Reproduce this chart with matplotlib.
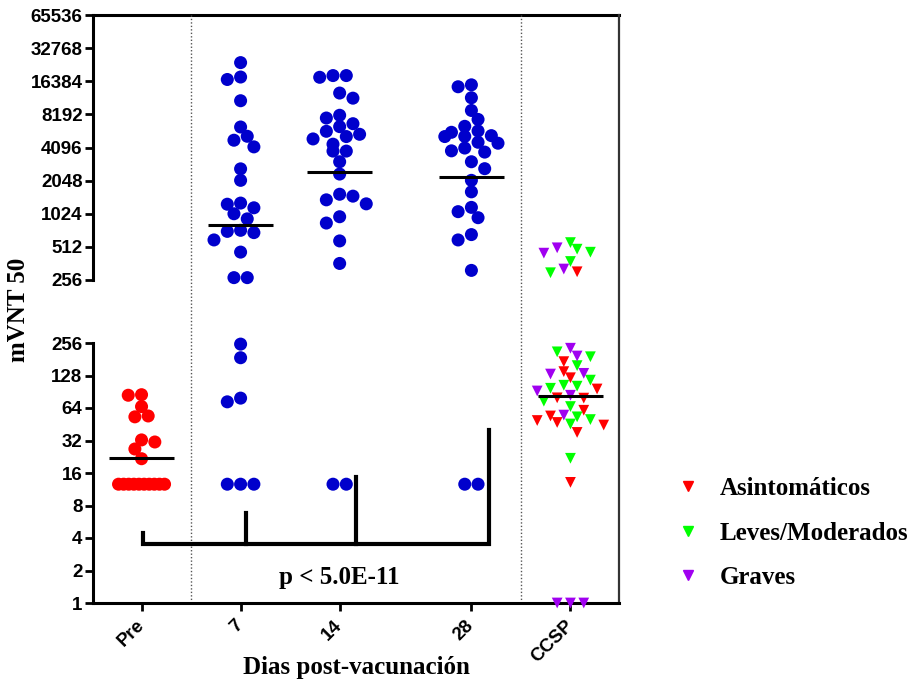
import numpy as np
import matplotlib.pyplot as plt
import matplotlib.transforms as mtransforms
from matplotlib.lines import Line2D
from matplotlib.ticker import FixedLocator, NullLocator

# ---- data ----
groups = ["Pre", "7", "14", "28", "CCSP"]

pre_vals = [84, 85, 66, 54, 53, 31, 32.4, 26.7, 21.7] + [12.6] * 10
d7_vals = [24200, 17900, 17000, 10900, 6290, 5180, 4770, 4150, 2620, 2060,
           1250, 1280, 1160, 1024, 920, 724, 690, 708, 592, 459, 269, 269,
           250, 187, 79, 73, 12.6, 12.6, 12.6]
d14_vals = [18450, 17800, 18450, 12800, 11500, 7590, 8040, 6340, 6740, 5400,
            5150, 5750, 4900, 4390, 3800, 3800, 3040, 2350, 1480, 1260, 1370,
            1540, 962, 843, 580, 362, 12.6, 12.6]
d28_vals = [14600, 15200, 11600, 8890, 7370, 6380, 5790, 5630, 5170, 5150,
            5250, 4570, 4480, 4050, 3720, 3820, 3040, 2630, 2060, 1620, 1070,
            943, 1170, 592, 662, 313, 12.6, 12.6]

ccsp_asint = [304, 172, 139, 122, 96, 79, 79.5, 61, 54, 47, 44.5, 49, 38, 13.1]
ccsp_leves = [560, 488, 458, 377, 298, 212, 191, 158, 116, 102, 104, 97.5,
              74, 66, 50, 53, 45.5, 21.9]
ccsp_graves = [449, 502, 322, 229, 194, 132, 134, 92, 84, 55, 1, 1, 1]

group_means = [21.9, 805, 2450, 2200, 83]

bracket_x = [0.01, 1.05, 2.17, 3.51]
bracket_tops = [4.45, 6.8, 14.7, 40]
bracket_base = 3.52
p_text = "p < 5.0E-11"

cat_labels = ["Asintomáticos", "Leves/Moderados", "Graves"]
cat_colors = ["#FF0000", "#00FF00", "#A000F0"]
dot_color = "#0000CC"

top_ticks = [2 ** k for k in range(8, 17)]
bot_ticks = [2 ** k for k in range(0, 9)]

# ---- layout ----
W, H = 914, 681
xpos = [0, 1, 2, 3.33, 4.33]
xlim = (-0.49, 4.82)

serif = "Liberation Serif"
sans = "Liberation Sans"

fig = plt.figure(figsize=(W / 100, H / 100), dpi=100)


def box(l, t, r, b):
    return [l / W, 1 - b / H, (r - l) / W, (b - t) / H]


ax_top = fig.add_axes(box(93, 15, 619, 280))
ax_bot = fig.add_axes(box(93, 343, 619, 603))

for ax, lo, hi, ticks in [(ax_top, 256, 65536, top_ticks), (ax_bot, 1, 256, bot_ticks)]:
    ax.set_yscale("log", base=2)
    ax.set_ylim(lo, hi)
    ax.set_xlim(*xlim)
    ax.yaxis.set_major_locator(FixedLocator(ticks))
    ax.yaxis.set_minor_locator(NullLocator())
    ax.set_yticklabels([str(t) for t in ticks], fontfamily=sans,
                       fontweight="bold", fontsize=13.5)
    ax.tick_params(axis="y", direction="out", length=6, width=2, pad=1.5)
    ax.spines["left"].set_linewidth(2.2)
    ax.spines["right"].set_visible(False)
    ax.patch.set_alpha(0)

ax_top.spines["bottom"].set_visible(False)
ax_top.spines["top"].set_linewidth(2.2)
ax_top.set_xticks([])
ax_bot.spines["top"].set_visible(False)
ax_bot.spines["bottom"].set_linewidth(2.2)
ax_bot.set_xticks(xpos)
ax_bot.set_xticklabels(groups, rotation=45, ha="right", va="top",
                       rotation_mode="anchor", fontfamily=sans,
                       fontweight="bold", fontsize=13.5)
ax_bot.tick_params(axis="x", direction="out", length=6, width=2, pad=4)
shift = mtransforms.ScaledTranslation(-6 / 100, 0, fig.dpi_scale_trans)
for lab in ax_bot.get_xticklabels():
    lab.set_transform(lab.get_transform() + shift)

# right border and dotted separators running through the axis break
span = (603 - 15) / (603 - 343)
ax_bot.add_line(Line2D([1, 1], [0, span], transform=ax_bot.transAxes,
                       color="#333333", lw=1.6, clip_on=False))
for xv in [(xpos[0] + xpos[1]) / 2, (xpos[3] + xpos[4]) / 2]:
    ax_bot.axvline(xv, ymin=0, ymax=span, color="#555555", lw=1.0,
                   ls=(0, (1, 1.5)), clip_on=False, zorder=1)


def swarm(ypix, vals, d, step, row_w, kmax):
    """simple beeswarm in pixel units, returns x offsets in pixels"""
    n = len(ypix)
    off = np.full(n, np.nan)
    order = np.argsort(-ypix, kind="stable")
    placed = []
    for i in order:
        if not np.isnan(off[i]):
            continue
        same = [j for j in range(n) if vals[j] == vals[i]]
        if len(same) > 1:
            sp = min(2 * step, row_w / (len(same) - 1))
            for k, j in enumerate(same):
                off[j] = (k - (len(same) - 1) / 2) * sp
                placed.append(j)
            continue
        bal = sum(np.sign(off[j]) for j in placed)
        ks = [0]
        for k in range(1, kmax + 1):
            ks += [-k, k] if bal >= 0 else [k, -k]
        best, best_d = 0, -1
        for k in ks:
            dmin = min([np.hypot(k * step - off[j], ypix[i] - ypix[j])
                        for j in placed] + [1e9])
            if dmin >= d:
                best = k
                break
            if dmin > best_d:
                best, best_d = k, dmin
        off[i] = best * step
        placed.append(i)
    return off


px_per_unit = ax_bot.bbox.width / (xlim[1] - xlim[0])


def draw_group(xc, vals, colors, marker, size, d, kmax):
    vals = np.asarray(vals, float)
    colors = np.asarray(colors)
    for ax, mask in [(ax_top, vals >= 256), (ax_bot, vals < 256)]:
        v = vals[mask]
        if len(v) == 0:
            continue
        ypix = ax.transData.transform(np.column_stack([np.full(len(v), xc), v]))[:, 1]
        off = swarm(ypix, list(v), d, 6.65, 46, kmax)
        ax.scatter(xc + off / px_per_unit, v, s=size, marker=marker,
                   c=list(colors[mask]), edgecolors="none", clip_on=False, zorder=3)


for xc, vals in zip(xpos[:4], [pre_vals, d7_vals, d14_vals, d28_vals]):
    col = "#FF0000" if xc == xpos[0] else dot_color
    draw_group(xc, vals, [col] * len(vals), "o", 88, 11, 4)

ccsp_vals = ccsp_asint + ccsp_leves + ccsp_graves
ccsp_cols = ([cat_colors[0]] * len(ccsp_asint) + [cat_colors[1]] * len(ccsp_leves)
             + [cat_colors[2]] * len(ccsp_graves))
draw_group(xpos[4], ccsp_vals, ccsp_cols, "v", 60, 9, 5)

# mean lines
for xc, m in zip(xpos, group_means):
    ax = ax_top if m >= 256 else ax_bot
    ax.hlines(m, xc - 0.33, xc + 0.33, color="black", lw=2.2, zorder=4)

# bracket
ax_bot.plot([bracket_x[0], bracket_x[0], bracket_x[-1], bracket_x[-1]],
            [bracket_tops[0], bracket_base, bracket_base, bracket_tops[-1]],
            color="black", lw=3, solid_joinstyle="miter", zorder=2)
for bx, bt in zip(bracket_x[1:-1], bracket_tops[1:-1]):
    ax_bot.plot([bx, bx], [bracket_base, bt], color="black", lw=3, zorder=2)
ax_bot.text(2.0, 1.72, p_text, ha="center", va="center", fontfamily=serif,
            fontweight="bold", fontsize=18)

ax_bot.set_xlabel("Dias post-vacunación", fontfamily=serif, fontweight="bold",
                  fontsize=18)
ax_bot.xaxis.set_label_coords(0.5, -(656 - 603) / (603 - 343))
fig.text(19 / W, 1 - 310 / H, "mVNT 50", rotation=90, ha="center", va="center",
         fontfamily=serif, fontweight="bold", fontsize=18)

handles = [Line2D([], [], marker="v", ls="none", color=c, markersize=7.5)
           for c in cat_colors]
fig.legend(handles, cat_labels, loc="center left",
           bbox_to_anchor=(675.5 / W, 1 - 533 / H), frameon=False,
           prop={"family": serif, "weight": "bold", "size": 18},
           handlelength=1.0, handletextpad=0.78, labelspacing=0.86,
           borderpad=0, borderaxespad=0)

fig.savefig("out.png", dpi=100)
